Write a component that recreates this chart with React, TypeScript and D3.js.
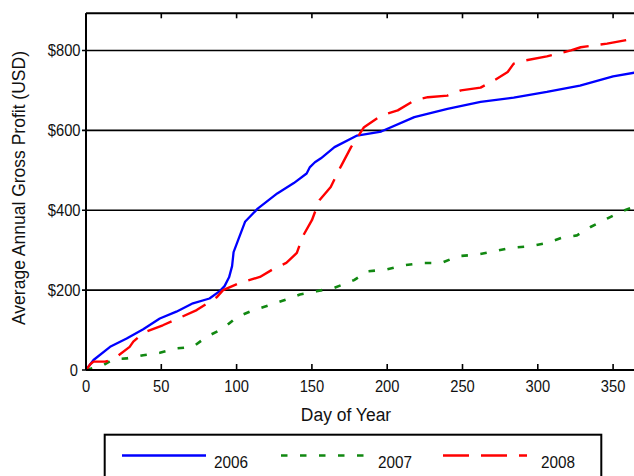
import React from "react";
import * as d3 from "d3";

const xTicks = [0, 50, 100, 150, 200, 250, 300, 350];
const yTicks = [0, 200, 400, 600, 800];
const yTickLabels = ["0", "$200", "$400", "$600", "$800"];

const days2006 = [0, 5, 16, 27, 38, 49, 60, 71, 82, 89, 92, 95, 97, 98, 101, 105.6, 114, 127, 138, 146.5, 148.7, 152, 156, 165, 180, 196, 218, 240, 262, 284, 306, 328, 350, 365];
const vals2006 = [0, 25, 58, 79, 102, 129, 146, 167, 179, 198, 210, 232, 260, 295, 325, 371, 404, 442, 468, 492, 508, 520, 530, 558, 587, 597, 633, 654, 671, 682, 696, 712, 735, 745];

const days2007 = [0, 5, 11.5, 18, 27, 38, 49, 60, 71, 80, 91, 100, 110, 120, 131, 142, 153, 165, 178, 187, 200, 211, 224, 236, 247, 260, 271, 282, 295, 306, 316, 326, 335, 346, 355, 365];
const vals2007 = [0, 5, 12, 27, 29, 37, 43, 54, 58, 83, 104, 132, 148, 160, 174, 189, 197, 206, 225, 247, 252, 262, 268, 268, 285, 289, 297, 306, 310, 318, 331, 337, 358, 379, 396, 410];

const days2008 = [0, 3, 5, 12.6, 14, 21, 29, 31.4, 38, 51, 60, 73.5, 81, 87, 91, 102, 115.5, 124, 133, 140, 144, 150, 155, 162.5, 169, 176, 184.6, 196, 207, 218, 227, 240, 249, 262, 271, 280, 284, 289, 306, 322, 328.5, 346, 365];
const vals2008 = [0, 15, 21, 21, 22, 35, 58, 71, 93, 112, 127, 150, 168, 183, 200, 218, 233, 252, 268, 293, 335, 375, 425, 458, 508, 558, 608, 637, 650, 675, 683, 687, 700, 707, 725, 746, 767, 773, 785, 800, 808, 817, 830];

const seriesNames = ["2006", "2007", "2008"];
const seriesColors = ["#0000ff", "#118811", "#ff0000"];

const FONT = "'Liberation Sans', Arial, Helvetica, sans-serif";

export default function App() {
  const W = 634;
  const H = 476;
  const left = 86;
  const top = 13.3;
  const bottom = 370;
  const x = d3.scaleLinear().domain([0, 365]).range([left, left + 365 * 1.506]);
  const y = d3.scaleLinear().domain([0, 893]).range([bottom, top]);
  const right = x(365);

  const line = d3
    .line<[number, number]>()
    .x((d) => x(d[0]))
    .y((d) => y(d[1]));

  const toPts = (ds: number[], vs: number[]) => ds.map((d, i) => [d, vs[i]] as [number, number]);
  const series = [
    { pts: toPts(days2006, vals2006), dash: "none", width: 2.3 },
    { pts: toPts(days2007, vals2007), dash: "6.5,12.5", width: 2.6 },
    { pts: toPts(days2008, vals2008), dash: "26,12", width: 2.4 },
  ];

  const legendY = 455.5;
  const legendItems = [
    { x1: 122, x2: 206, tx: 214 },
    { x1: 281, x2: 365, tx: 378 },
    { x1: 443, x2: 527, tx: 541 },
  ];

  return (
    <div style={{ position: "absolute", left: 0, top: 0 }}>
      <svg width={W} height={H} style={{ display: "block", background: "#fff" }}>
        <defs>
          <clipPath id="plotclip">
            <rect x={left} y={top} width={right - left} height={bottom - top} />
          </clipPath>
        </defs>
        <rect x={0} y={0} width={W} height={H} fill="#fff" />
        {yTicks.map((t) => (
          <line key={"g" + t} x1={left - 4} x2={right} y1={y(t)} y2={y(t)} stroke="#000" strokeWidth={1.6} />
        ))}
        {xTicks.map((t) => (
          <g key={"xt" + t}>
            <line x1={x(t)} x2={x(t)} y1={bottom} y2={bottom - 6} stroke="#000" strokeWidth={1.6} />
            <line x1={x(t)} x2={x(t)} y1={top} y2={top + 5} stroke="#000" strokeWidth={1.6} />
          </g>
        ))}
        <g clipPath="url(#plotclip)">
          {series.map((s, i) => (
            <path
              key={seriesNames[i]}
              d={line(s.pts) || ""}
              fill="none"
              stroke={seriesColors[i]}
              strokeWidth={s.width}
              strokeDasharray={s.dash}
              strokeLinejoin="round"
            />
          ))}
        </g>
        <line x1={left} x2={left} y1={top} y2={bottom} stroke="#000" strokeWidth={2} />
        <line x1={left} x2={right} y1={top} y2={top} stroke="#000" strokeWidth={2} />
        <line x1={left} x2={right} y1={bottom} y2={bottom} stroke="#000" strokeWidth={2} />
        <line x1={right} x2={right} y1={top} y2={bottom} stroke="#000" strokeWidth={2} />
        {xTicks.map((t) => (
          <text
            key={"xl" + t}
            transform={`translate(${x(t)},391.5) scale(0.92,1)`}
            textAnchor="middle"
            fontFamily={FONT}
            fontSize={16}
            fill="#111"
          >
            {t}
          </text>
        ))}
        {yTicks.map((t, i) => (
          <text
            key={"yl" + t}
            transform={`translate(${t === 0 ? 78 : 80.5},${y(t) + 6}) scale(0.92,1)`}
            textAnchor="end"
            fontFamily={FONT}
            fontSize={16}
            fill="#111"
          >
            {yTickLabels[i]}
          </text>
        ))}
        <text
          transform={`translate(346,420.5) scale(0.92,1)`}
          textAnchor="middle"
          fontFamily={FONT}
          fontSize={19}
          fill="#111"
        >
          Day of Year
        </text>
        <text
          transform={`translate(25,188) rotate(-90)`}
          textAnchor="middle"
          fontFamily={FONT}
          fontSize={17.5}
          fill="#111"
        >
          Average Annual Gross Profit (USD)
        </text>
        <rect x={104.7} y={434.7} width={496.6} height={60} fill="#fff" stroke="#000" strokeWidth={2} />
        {legendItems.map((l, i) => (
          <g key={"lg" + i}>
            <line
              x1={l.x1}
              x2={l.x2}
              y1={legendY}
              y2={legendY}
              stroke={seriesColors[i]}
              strokeWidth={series[i].width}
              strokeDasharray={series[i].dash}
            />
            <text
              transform={`translate(${l.tx},468) scale(0.9,1)`}
              fontFamily={FONT}
              fontSize={17}
              fill="#111"
            >
              {seriesNames[i]}
            </text>
          </g>
        ))}
      </svg>
    </div>
  );
}
